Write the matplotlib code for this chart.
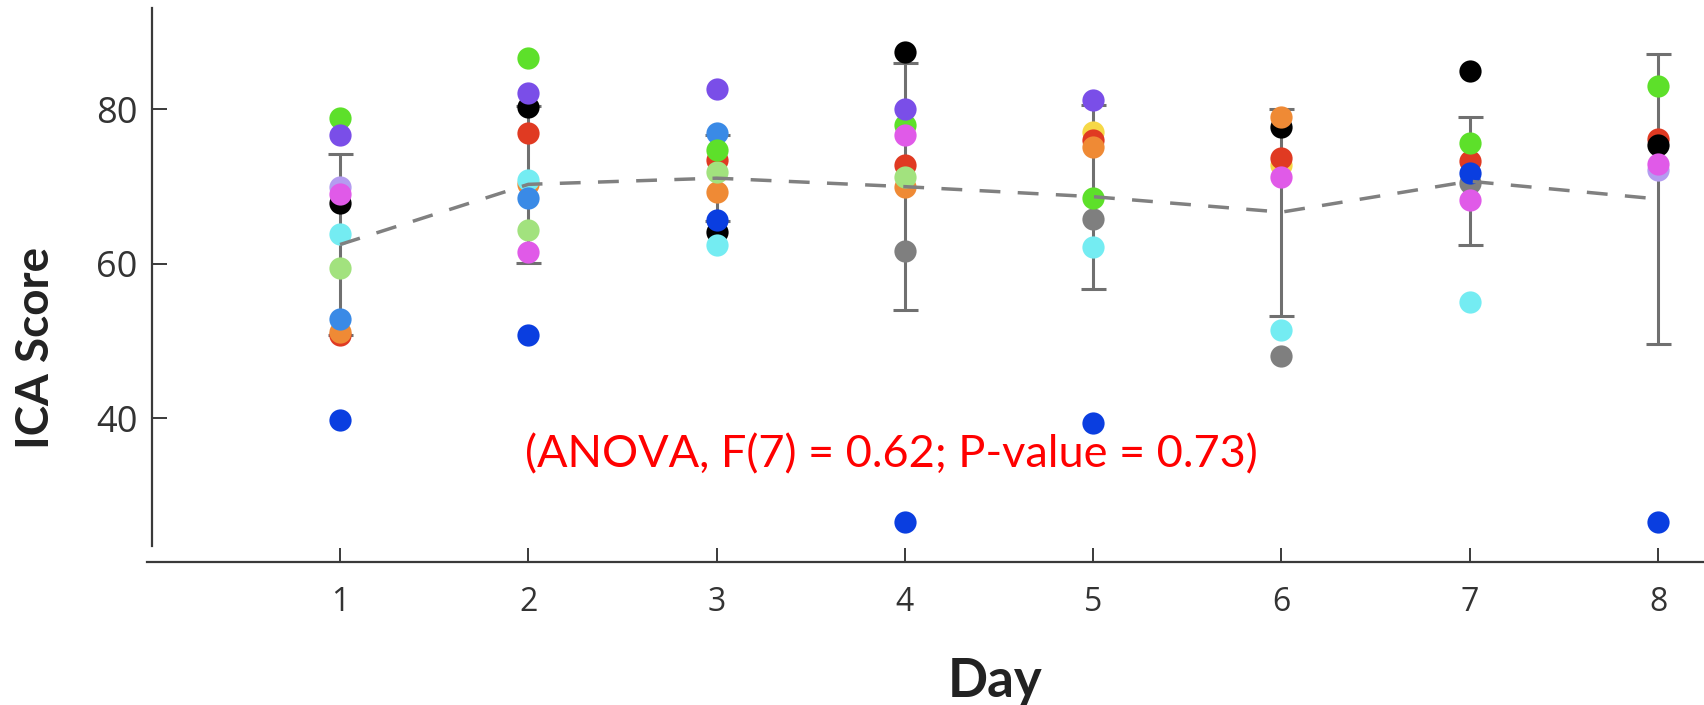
import numpy as np
import matplotlib.pyplot as plt

nan = np.nan

# ICA score per subject for each recording day (nan = no score)
days = [1, 2, 3, 4, 5, 6, 7, 8]
mean_score = [62.5, 70.3, 71.1, 70.0, 68.7, 66.7, 70.7, 68.4]
sd_score = [11.7, 10.2, 5.6, 16.0, 11.9, 13.4, 8.3, 18.8]

lavender = [70.0, nan, nan, nan, nan, nan, nan, 72.1]
yellow = [nan, nan, nan, nan, 77.1, 72.8, nan, nan]
red = [50.8, 77.0, 73.4, 72.8, 76.1, 73.7, 73.3, 76.2]
black = [67.9, 80.3, 64.1, 87.5, nan, 77.7, 85.0, 75.4]
orange = [51.2, 70.3, 69.3, 69.9, 75.1, 79.0, nan, nan]
gray = [nan, nan, nan, 61.7, 65.8, 48.0, 70.5, nan]
light_green = [59.5, 64.4, 71.9, 71.3, nan, nan, nan, nan]
cyan = [63.9, 70.9, 62.4, nan, 62.2, 51.4, 55.1, nan]
mid_blue = [52.8, 68.5, 76.9, nan, nan, nan, nan, nan]
dark_blue = [39.7, 50.8, 65.7, 26.5, 39.4, nan, 71.8, 26.5]
green = [78.9, 86.7, 74.7, 78.0, 68.5, nan, 75.7, 83.1]
purple = [76.7, 82.1, 82.7, 80.0, 81.2, nan, nan, nan]
magenta = [69.0, 61.5, nan, 76.7, nan, 71.3, 68.3, 73.0]

subjects = [
    (lavender, '#b49cf0'),
    (yellow, '#f6d846'),
    (red, '#e03a22'),
    (black, '#000000'),
    (orange, '#ef8a35'),
    (gray, '#7f7f7f'),
    (light_green, '#a2e27e'),
    (cyan, '#74ecf2'),
    (mid_blue, '#3a8ae6'),
    (dark_blue, '#0a3ee0'),
    (green, '#5de02a'),
    (purple, '#7a4ee8'),
    (magenta, '#e05ae8'),
]

fig = plt.figure(figsize=(17.04, 7.05), dpi=100)
ax = fig.add_axes([0.0863, 0.2028, 0.9137, 0.7864])

# spread of the scores on each day
ax.errorbar(days, mean_score, yerr=sd_score, fmt='none', ecolor='#707070',
            elinewidth=2.2, capsize=9, capthick=2.2, zorder=2)

for vals, col in subjects:
    ax.plot(days, vals, 'o', linestyle='none', color=col, markersize=16,
            markeredgewidth=0, zorder=3)

# day means
ax.plot(days, mean_score, color='#808080', linewidth=2.5, dashes=(6, 5), zorder=4)

ax.text(3.93, 35.2, '(ANOVA, F(7) = 0.62; P-value = 0.73)', color='red',
        fontsize=32.5, family='Lato', ha='center', va='center')

ax.set_xlim(-0.025, 8.244)
ax.set_ylim(21.36, 93.2)
ax.set_xticks(days)
ax.set_yticks([40, 60, 80])

for s in ['top', 'right']:
    ax.spines[s].set_visible(False)
ax.spines['left'].set_position(('data', 0))
ax.spines['left'].set_bounds(23.4, 93.2)
for s in ['left', 'bottom']:
    ax.spines[s].set_linewidth(1.6)
    ax.spines[s].set_color('#3a3a3a')

ax.tick_params(axis='y', direction='in', length=11, width=1.4, color='#3a3a3a',
               labelsize=26, labelcolor='#333333', pad=10)
ax.tick_params(axis='x', direction='in', length=10, width=1.4, color='#3a3a3a',
               labelsize=23, labelcolor='#333333', pad=17)
for lab in ax.get_xticklabels() + ax.get_yticklabels():
    lab.set_family('Open Sans')

ax.set_ylabel('ICA Score', fontsize=33, family='Lato', fontweight='bold',
              color='#222222', va='center')
ax.yaxis.set_label_coords(-0.0713, 0.387)
ax.set_xlabel('Day', fontsize=38, family='Lato', fontweight='bold',
              color='#222222', va='baseline')
ax.xaxis.set_label_coords(0.545, -0.2435)

fig.savefig('out.png', dpi=100)
